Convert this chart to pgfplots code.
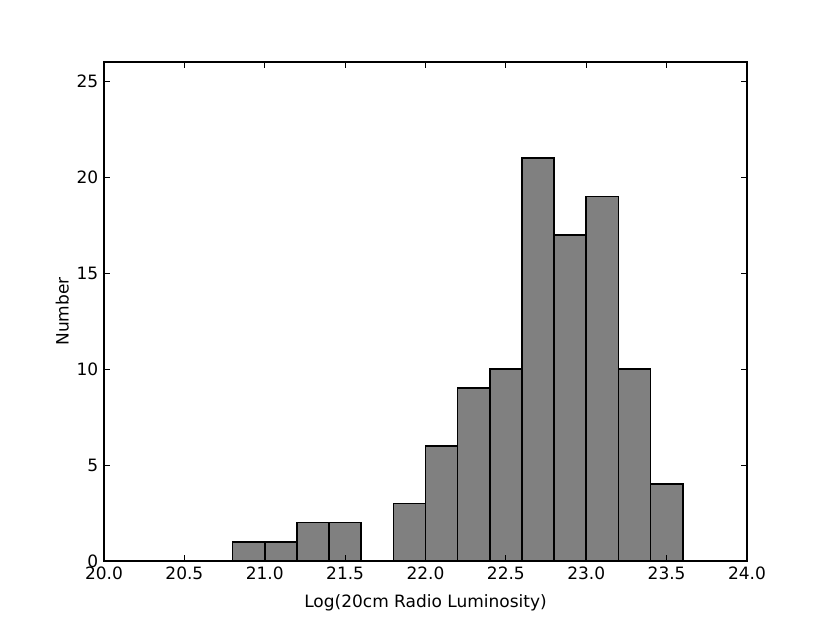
\documentclass[border=0pt]{standalone}
\usepackage{pgfplots}
\pgfplotsset{compat=1.18}
\usepackage{fontspec}
\setmainfont{DejaVu Sans}
\pgfplotstableread{
x y
20.8 1
21.0 1
21.2 2
21.4 2
21.6 0
21.8 3
22.0 6
22.2 9
22.4 10
22.6 21
22.8 17
23.0 19
23.2 10
23.4 4
23.6 0
}\hist
\begin{document}
\fontsize{17}{20}\selectfont
\begin{tikzpicture}
\useasboundingbox (-104pt,-62pt) rectangle (726pt,561pt);
\begin{axis}[
  at={(0pt,0pt)}, anchor=south west,
  scale only axis, width=643pt, height=499pt,
  xmin=20, xmax=24, ymin=0, ymax=26,
  xtick={20,20.5,...,24}, ytick={0,5,...,25},
  xticklabel style={/pgf/number format/.cd, fixed, fixed zerofill, precision=1},
  /pgf/number format/assume math mode=true,
  tick align=inside, major tick length=6pt,
  tick style={black, line width=0.8pt},
  axis line style={line width=1.2pt},
  axis on top,
  xlabel={Log(20cm Radio Luminosity)}, ylabel={Number},
  xlabel style={yshift=-3pt}, ylabel style={yshift=-4pt},
  ticklabel style={font=\fontsize{17}{20}\selectfont},
  label style={font=\fontsize{17}{20}\selectfont},
]
\addplot[ybar interval, fill=gray, draw=none] table {\hist};
\addplot[ybar interval, fill=none, draw=black, line width=1.6pt] table {\hist};
\end{axis}
\end{tikzpicture}
\end{document}
